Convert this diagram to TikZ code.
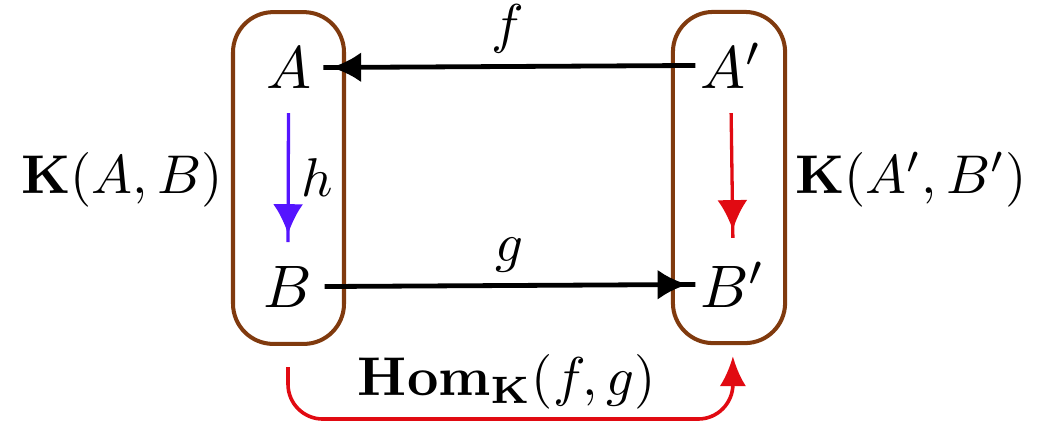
\documentclass[tikz,border=0pt]{standalone}
\usetikzlibrary{arrows.meta,decorations.markings}
\definecolor{boxbrown}{RGB}{128,58,14}
\definecolor{hblue}{RGB}{85,20,255}
\definecolor{fred}{RGB}{225,10,18}
\newcommand\lbltxt[1]{\scalebox{0.91}{#1}}
\tikzset{
  obj/.style={inner sep=0pt, anchor=base},
  lbl/.style={inner sep=0pt, text=black},
  groupbox/.style={draw=boxbrown, line width=0.67pt, rounded corners=6.7pt, inner sep=0pt},
  tipmark/.style={postaction={decorate}, decoration={markings, mark=at position -1.3pt with {\arrow{Latex[length=5pt,width=5pt]}}}},
  blackarr/.style={line width=0.8pt, black, tipmark},
  vertarr/.style={line width=0.55pt, tipmark},
  bottomarr/.style={line width=0.6pt, fred, rounded corners=5.8pt, -{Latex[length=5pt,width=4.4pt]}}
}
\begin{document}
\begin{tikzpicture}[x=0.16667pt, y=-0.16667pt]
\useasboundingbox (0,0) rectangle (1037,421);
% group boxes
\node[groupbox, minimum width=18.5pt, minimum height=55.3pt] (L) at (288.5,178) {};
\node[groupbox, minimum width=18.7pt, minimum height=55.2pt] (R) at (729,177.5) {};
% objects
\node[obj] (A) at (288.5,88) {$A$};
\node[obj] (B) at (288,307) {$B$};
\node[obj, anchor=base west] (Ap) at (699,88) {$A'$};
\node[obj, anchor=base west] (Bp) at (699,307) {$B'$};
% hom-set labels
\node[obj] (KAB) at (122,193) {\lbltxt{$\mathbf{K}(A,B)$}};
\node[obj] (KApBp) at (911,193) {\lbltxt{$\mathbf{K}(A',B')$}};
% arrows
\draw[blackarr] ([xshift=-0.6pt]Ap.west) -- ([xshift=1.85pt]A.east)
  node[lbl, pos=0.505, above=1.8pt] (f) {\lbltxt{$f$}};
\draw[blackarr] ([xshift=1.85pt]B.east) -- ([xshift=-0.6pt]Bp.west)
  node[lbl, pos=0.5, above=1.75pt] (g) {\lbltxt{$g$}};
\draw[vertarr, hblue] ([yshift=-4pt]A.south) -- ([yshift=3.8pt]B.north)
  node[lbl, pos=0.5, right=2pt] (h) {\lbltxt{$h$}};
\draw[vertarr, fred] ([yshift=-4pt]Ap.south) -- ([yshift=3.8pt]Bp.north);
\draw[bottomarr] ([yshift=-9.8pt]B.south) -- ++(0,52) -| ([yshift=-8pt]Bp.south);
\node[obj] (Hom) at (507,395) {\lbltxt{$\mathbf{Hom}_{\mathbf{K}}(f,g)$}};
\end{tikzpicture}
\end{document}
